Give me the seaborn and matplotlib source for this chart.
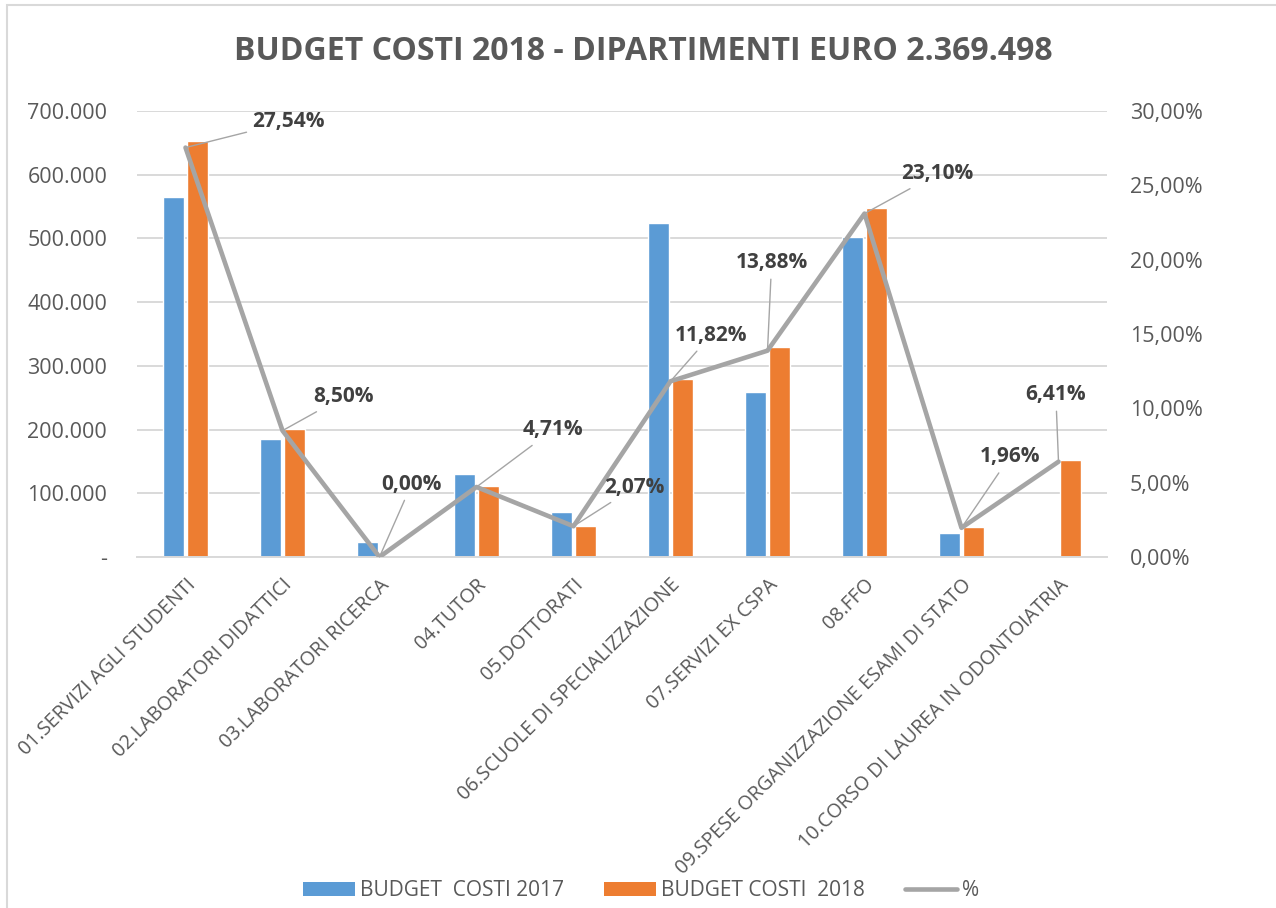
import numpy as np
import pandas as pd
import matplotlib
matplotlib.use("Agg")
import matplotlib.pyplot as plt
from matplotlib.patches import Rectangle, Patch
from matplotlib.lines import Line2D
import seaborn as sns

# ---- data ----
categories = [
    "01.SERVIZI AGLI STUDENTI",
    "02.LABORATORI DIDATTICI",
    "03.LABORATORI RICERCA",
    "04.TUTOR",
    "05.DOTTORATI",
    "06.SCUOLE DI SPECIALIZZAZIONE",
    "07.SERVIZI EX CSPA",
    "08.FFO",
    "09.SPESE ORGANIZZAZIONE ESAMI DI STATO",
    "10.CORSO DI LAUREA IN ODONTOIATRIA",
]
budget_2017 = [565400, 184900, 24200, 129900, 70200, 524100, 258200, 502600, 37200, 0]
budget_2018 = [652560, 201407, 0, 111600, 49049, 280075, 328886, 547354, 46442, 151885]
pct = [27.54, 8.50, 0.00, 4.71, 2.07, 11.82, 13.88, 23.10, 1.96, 6.41]
pct_labels = ["27,54%", "8,50%", "0,00%", "4,71%", "2,07%", "11,82%", "13,88%", "23,10%", "1,96%", "6,41%"]
series_names = ["BUDGET  COSTI 2017", "BUDGET COSTI  2018"]
line_name = "%"
title = "BUDGET COSTI 2018 - DIPARTIMENTI EURO 2.369.498"
left_ticks = [0, 100000, 200000, 300000, 400000, 500000, 600000, 700000]
left_tick_labels = ["-", "100.000", "200.000", "300.000", "400.000", "500.000", "600.000", "700.000"]
right_ticks = [0, 5, 10, 15, 20, 25, 30]
right_tick_labels = ["0,00%", "5,00%", "10,00%", "15,00%", "20,00%", "25,00%", "30,00%"]

# ---- style ----
BLUE = "#5B9BD5"
ORANGE = "#ED7D31"
GRAY = "#A5A5A5"
TXT = "#595959"
GRID = "#D9D9D9"

sns.set_theme(style="white")
plt.rcParams["font.family"] = ["Open Sans", "DejaVu Sans"]

df = pd.DataFrame({
    "cat": categories * 2,
    "value": budget_2017 + budget_2018,
    "serie": [series_names[0]] * len(categories) + [series_names[1]] * len(categories),
})

fig = plt.figure(figsize=(12.76, 9.08), dpi=100)
ax = fig.add_axes([137 / 1276, 1 - 557 / 908, (1107 - 137) / 1276, (557 - 111) / 908])

sns.barplot(data=df, x="cat", y="value", hue="serie", order=categories,
            hue_order=series_names, palette=[BLUE, ORANGE], width=0.5, gap=0.12,
            saturation=1, ax=ax, legend=False)

ax.set_ylim(0, 700000)
ax.set_yticks(left_ticks)
ax.set_yticklabels(left_tick_labels)
ax.set_xlim(-0.5, len(categories) - 0.5)
ax.set_xlabel("")
ax.set_ylabel("")
ax.grid(axis="y", color=GRID, linewidth=1.4)
ax.set_axisbelow(True)
for s in ["top", "left", "right"]:
    ax.spines[s].set_visible(False)
ax.spines["bottom"].set_color(GRID)
ax.spines["bottom"].set_linewidth(1.4)
ax.tick_params(axis="y", length=0, labelsize=15.5, labelcolor=TXT, pad=21.5)
ax.tick_params(axis="x", length=0, labelsize=14.2, labelcolor=TXT, pad=13)
for lab in ax.get_xticklabels():
    lab.set_rotation(45)
    lab.set_ha("right")
    lab.set_va("top")
    lab.set_rotation_mode("anchor")

# secondary axis with percentage line
ax2 = ax.twinx()
x_idx = np.arange(len(categories))
sns.lineplot(x=x_idx, y=pct, ax=ax2, color=GRAY, linewidth=3.3, legend=False,
             sort=False)
for l in ax2.get_lines():
    l.set_solid_joinstyle("round")
ax2.set_ylim(0, 30)
ax2.set_yticks(right_ticks)
ax2.set_yticklabels(right_tick_labels)
ax2.set_xlim(-0.5, len(categories) - 0.5)
ax2.tick_params(axis="y", length=0, labelsize=15.5, labelcolor=TXT, pad=16.5)
for s in ["top", "left", "right", "bottom"]:
    ax2.spines[s].set_visible(False)
ax2.grid(False)

# data labels with leader lines (offsets in pixels)
label_offsets = [(67, 26), (31, 34), (2, 73), (46, 57), (31, 39),
                 (4, 46), (-32, 88), (37, 40), (18, 71), (-33, 67)]
for i, (v, txt) in enumerate(zip(pct, pct_labels)):
    dx, dy = label_offsets[i]
    ax2.annotate(txt, xy=(i, v), xytext=(dx, dy), textcoords="offset pixels",
                 ha="left", va="center", fontsize=15, fontweight="bold",
                 color="#404040",
                 arrowprops=dict(arrowstyle="-", color=GRAY, lw=1.0,
                                 shrinkA=2, shrinkB=0))

# title
fig.text(643 / 1276, 1 - 52 / 908, title, ha="center", va="center",
         fontsize=23, fontweight="bold", color=TXT)

# legend
handles = [Patch(facecolor=BLUE, edgecolor="none"),
           Patch(facecolor=ORANGE, edgecolor="none"),
           Line2D([0], [0], color=GRAY, linewidth=3.3)]
fig.legend(handles, series_names + [line_name], loc="center",
           bbox_to_anchor=(641 / 1276, 1 - 891 / 908), ncol=3, frameon=False,
           fontsize=15, labelcolor=TXT, handlelength=2.5, handleheight=0.67,
           handletextpad=0.25, columnspacing=1.9)

# chart frame (only left/top edges visible as in the reference)
fig.add_artist(Rectangle((7 / 1276, -0.1), 1.2, 1 - 5 / 908 + 0.1,
                         transform=fig.transFigure, fill=False,
                         edgecolor=GRID, linewidth=1.5))

fig.savefig("out.png", dpi=100)
